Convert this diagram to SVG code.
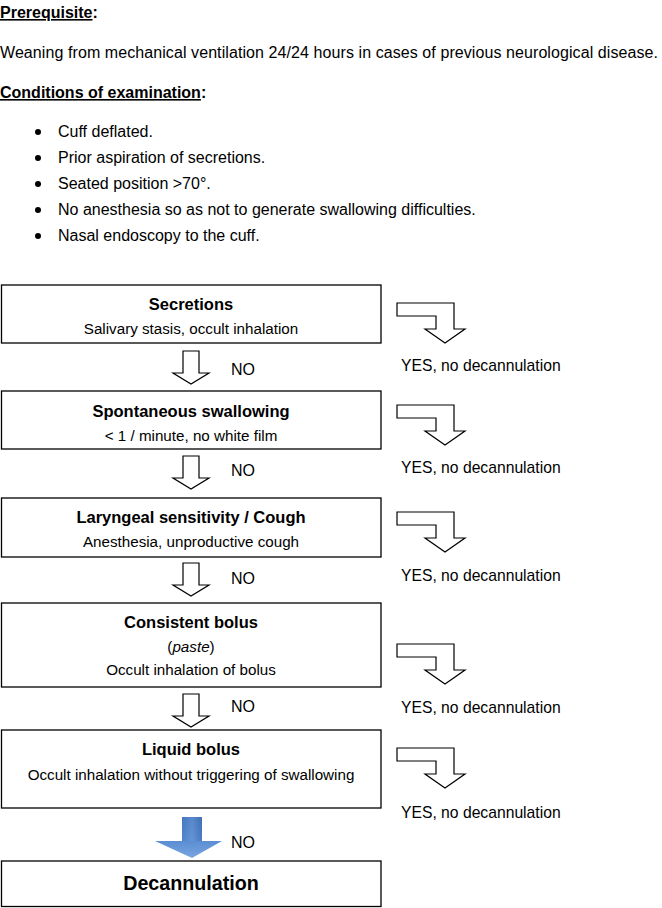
<svg xmlns="http://www.w3.org/2000/svg" width="662" height="908" viewBox="0 0 662 908">
<style>
text{font-family:"Liberation Sans",Arial,sans-serif;font-size:16px;fill:#000}
.b{font-weight:bold}
.u{text-decoration:underline}
.c{text-anchor:middle}
.t{font-weight:bold;font-size:16.5px}
.s{font-size:15.2px}
.y{font-size:15.7px}
.box{fill:#fff;stroke:#000;stroke-width:1.3}
.arr{fill:#fff;stroke:#000;stroke-width:1.2;stroke-linejoin:miter}
</style>
<defs>
<path id="bent" d="M0,0 H57 V26 H68 L48,40 L28,26 H39 V13 H0 Z"/>
<path id="down" d="M-8,0 H8 V22 H18 L0,33 L-18,22 H-8 Z"/>
<linearGradient id="bl" x1="0" y1="0" x2="0" y2="1">
<stop offset="0" stop-color="#3f70b8"/>
<stop offset="0.6" stop-color="#5b8ed3"/>
<stop offset="1" stop-color="#7aa6e0"/>
</linearGradient>
<linearGradient id="bls" x1="0" y1="0" x2="1" y2="0">
<stop offset="0" stop-color="#4a7cc4"/>
<stop offset="0.5" stop-color="#6a9ad8"/>
<stop offset="1" stop-color="#3f6db3"/>
</linearGradient>
</defs>

<g id="header">
<text x="0" y="18" class="b"><tspan class="u">Prerequisite</tspan>:</text>
<text x="0" y="58" textLength="658" lengthAdjust="spacing">Weaning from mechanical ventilation 24/24 hours in cases of previous neurological disease.</text>
<text x="0" y="98" class="b"><tspan class="u">Conditions of examination</tspan>:</text>
<g>
<circle cx="38" cy="132" r="3"/><text x="58" y="137">Cuff deflated.</text>
<circle cx="38" cy="158" r="3"/><text x="58" y="163">Prior aspiration of secretions.</text>
<circle cx="38" cy="184" r="3"/><text x="58" y="189">Seated position &gt;70°.</text>
<circle cx="38" cy="210" r="3"/><text x="58" y="215">No anesthesia so as not to generate swallowing difficulties.</text>
<circle cx="38" cy="236" r="3"/><text x="58" y="241">Nasal endoscopy to the cuff.</text>
</g>
</g>

<g id="n1">
<rect class="box" x="1.5" y="285" width="379.5" height="58"/>
<text x="191" y="310" class="t c">Secretions</text>
<text x="191" y="334" class="s c">Salivary stasis, occult inhalation</text>
</g>
<g id="n2">
<rect class="box" x="1.5" y="391" width="379.5" height="58"/>
<text x="191" y="417" class="t c">Spontaneous swallowing</text>
<text x="191" y="441" class="s c">&lt; 1 / minute, no white film</text>
</g>
<g id="n3">
<rect class="box" x="1.5" y="498" width="379.5" height="59"/>
<text x="191" y="523" class="t c">Laryngeal sensitivity / Cough</text>
<text x="191" y="547" class="s c">Anesthesia, unproductive cough</text>
</g>
<g id="n4">
<rect class="box" x="1.5" y="603" width="379.5" height="84"/>
<text x="191" y="628" class="t c">Consistent bolus</text>
<text x="191" y="652" class="s c">(<tspan font-style="italic">paste</tspan>)</text>
<text x="191" y="675" class="s c">Occult inhalation of bolus</text>
</g>
<g id="n5">
<rect class="box" x="1.5" y="730" width="379.5" height="78"/>
<text x="191" y="755" class="t c">Liquid bolus</text>
<text x="191" y="780" class="s c">Occult inhalation without triggering of swallowing</text>
</g>
<g id="n6">
<rect class="box" x="1.5" y="861" width="379.5" height="45.5"/>
<text x="191" y="890" class="b c" style="font-size:19.7px">Decannulation</text>
</g>

<g id="connectors">
<use href="#down" class="arr" x="191" y="351"/>
<use href="#down" class="arr" x="191" y="456"/>
<use href="#down" class="arr" x="191" y="563"/>
<use href="#down" class="arr" x="191" y="694"/>
<path d="M182,817 H202 V841 H222 L192,858 L155,841 H182 Z" fill="url(#bl)"/>
<path d="M182,817 H202 V841 H182 Z" fill="url(#bls)" opacity="0.6"/>
<text x="231" y="375">NO</text>
<text x="231" y="476">NO</text>
<text x="231" y="584">NO</text>
<text x="231" y="712">NO</text>
<text x="231" y="848">NO</text>

<use href="#bent" class="arr" x="397" y="303"/>
<use href="#bent" class="arr" x="397" y="405"/>
<use href="#bent" class="arr" x="397" y="512"/>
<use href="#bent" class="arr" x="397" y="644"/>
<use href="#bent" class="arr" x="397" y="748"/>
<text x="401" y="371" class="y">YES, no decannulation</text>
<text x="401" y="473" class="y">YES, no decannulation</text>
<text x="401" y="581" class="y">YES, no decannulation</text>
<text x="401" y="713" class="y">YES, no decannulation</text>
<text x="401" y="818" class="y">YES, no decannulation</text>
</g>
</svg>
